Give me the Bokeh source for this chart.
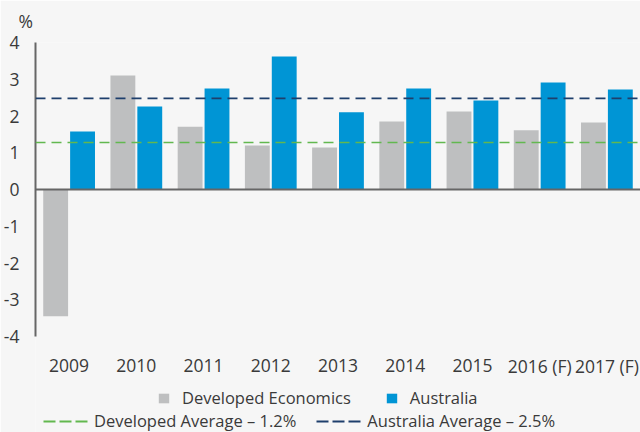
from bokeh.plotting import figure
from bokeh.models import (Range1d, FixedTicker, Span, Legend, LegendItem,
                          ColumnDataSource)
from bokeh.transform import dodge
from bokeh.core.properties import value
from bokeh.embed import file_html
from bokeh.resources import INLINE

years = ["2009", "2010", "2011", "2012", "2013", "2014", "2015", "2016 (F)", "2017 (F)"]
developed = [-3.45, 3.10, 1.71, 1.20, 1.14, 1.85, 2.12, 1.61, 1.82]
australia = [1.58, 2.26, 2.75, 3.62, 2.10, 2.75, 2.42, 2.91, 2.72]
developed_avg = 1.28
australia_avg = 2.48
y_ticks = [-4, -3, -2, -1, 0, 1, 2, 3, 4]
y_tick_labels = ["-4", "-3", "-2", "-1", "0", "1", "2", "3", "4"]
series_labels = ["Developed Economics", "Australia"]
avg_labels = ["Developed Average \u2013 1.2%", "Australia Average \u2013 2.5%"]

FONT = "Open Sans"
FS = "17.5px"
LFS = "16.5px"
TXT = "#3a3a3a"
BG = "#f6f6f6"
GRAY = "#bebfc0"
BLUE = "#0095d5"
GREEN = "#62b84f"
NAVY = "#1e3f6c"

src = ColumnDataSource(dict(year=years, dev=developed, aus=australia,
                            lab_y=[-4.79] * len(years)))

p = figure(x_range=years, y_range=Range1d(-6.612, 4), width=640, height=432,
           output_backend="svg", toolbar_location=None,
           min_border_left=30, min_border_right=0, min_border_top=42,
           min_border_bottom=0)
p.background_fill_color = BG
p.border_fill_color = BG
p.outline_line_color = None
p.xgrid.grid_line_color = None
p.ygrid.grid_line_color = None
p.x_range.range_padding = 0

r_dev = p.vbar(x=dodge("year", -0.2, range=p.x_range), top="dev", width=0.37,
               source=src, fill_color=GRAY, line_color=None)
r_aus = p.vbar(x=dodge("year", 0.2, range=p.x_range), top="aus", width=0.37,
               source=src, fill_color=BLUE, line_color=None)

p.add_layout(Span(location=0, dimension="width", line_color="#666666", line_width=2))
p.add_layout(Span(location=developed_avg, dimension="width", line_color=GREEN,
                  line_width=1.6, line_dash="10 6"))
p.add_layout(Span(location=australia_avg, dimension="width", line_color=NAVY,
                  line_width=1.6, line_dash="10 6"))

# category labels
p.text(x="year", y="lab_y", text="year", source=src, text_font=value(FONT),
       text_font_size=FS, text_color=TXT, text_align="center",
       text_baseline="middle")

# single-point line renderers (draw nothing) used only for the legend swatches
r_ga = p.line(x=[years[0]], y=[developed_avg], line_color=GREEN, line_width=1.8,
              line_dash="12 4")
r_na = p.line(x=[years[0]], y=[australia_avg], line_color=NAVY, line_width=1.8,
              line_dash="12 4")

# axes
p.xaxis.visible = False
p.yaxis.bounds = (-4, 4)
p.yaxis.ticker = FixedTicker(ticks=y_ticks)
p.yaxis.major_label_overrides = {t: l for t, l in zip(y_ticks, y_tick_labels)}
p.yaxis.axis_line_color = "#666666"
p.yaxis.axis_line_width = 2
p.yaxis.major_tick_line_color = None
p.yaxis.minor_tick_line_color = None
p.yaxis.major_label_standoff = 10
p.yaxis.major_label_text_font = FONT
p.yaxis.major_label_text_font_size = FS
p.yaxis.major_label_text_color = TXT

p.title.text = "%"
p.title.align = "left"
p.title.vertical_align = "top"
p.title.offset = -17
p.title.standoff = 15
p.title.text_font = FONT
p.title.text_font_size = FS
p.title.text_font_style = "normal"
p.title.text_color = TXT

leg1 = Legend(items=[LegendItem(label=series_labels[0], renderers=[r_dev]),
                     LegendItem(label=series_labels[1], renderers=[r_aus])],
              orientation="horizontal", location=(122, 23),
              glyph_width=13, glyph_height=12, label_standoff=12, spacing=34,
              padding=0, margin=0, background_fill_alpha=0, border_line_color=None,
              label_text_font=FONT, label_text_font_size=LFS, label_text_color=TXT)
leg2 = Legend(items=[LegendItem(label=avg_labels[0], renderers=[r_ga]),
                     LegendItem(label=avg_labels[1], renderers=[r_na])],
              orientation="horizontal", location=(8, 0),
              glyph_width=45, glyph_height=12, label_standoff=6, spacing=20,
              padding=0, margin=0, background_fill_alpha=0, border_line_color=None,
              label_text_font=FONT, label_text_font_size=LFS, label_text_color=TXT)
p.add_layout(leg1, "center")
p.add_layout(leg2, "center")

open("out.html", "w").write(file_html(p, INLINE))
